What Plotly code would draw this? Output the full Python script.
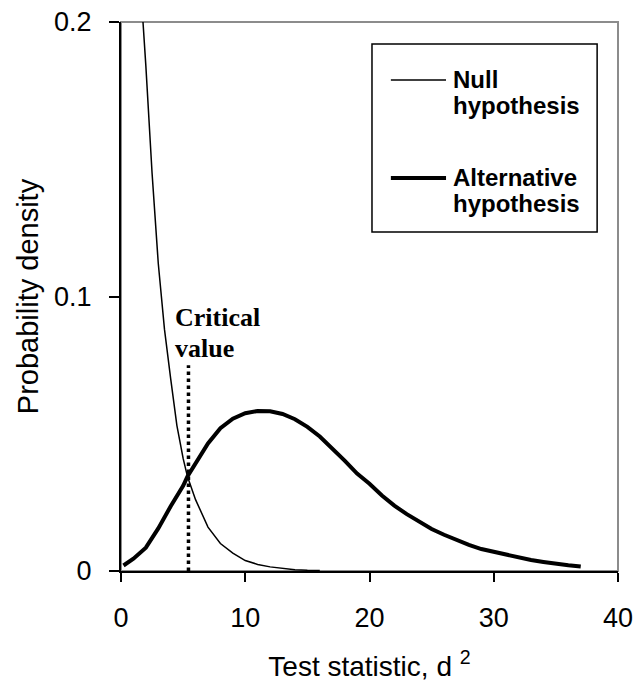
import plotly.graph_objects as go

# ---- data ----
null_x = [1.5, 1.77, 2.0, 2.5, 3.0, 3.5, 4.0, 4.5, 5.0, 5.35, 6.0, 6.5, 7.0, 8.0, 9.0,
          10.0, 11.0, 12.0, 13.0, 14.0, 15.0, 16.0]
null_y = [0.236, 0.200, 0.184, 0.145, 0.112, 0.088, 0.070, 0.053, 0.041, 0.0344, 0.026,
          0.021, 0.016, 0.010, 0.0065, 0.0038, 0.0024, 0.0015, 0.0009, 0.0005, 0.0003, 0.0002]

alt_x = [0.2, 1, 2, 3, 4, 5, 5.35, 6, 7, 8, 9, 10, 11, 12, 13, 14, 15, 16, 17, 18, 19, 20,
         21, 22, 23, 24, 25, 26, 27, 28, 29, 30, 31, 32, 33, 34, 35, 36, 37]
alt_y = [0.002, 0.0045, 0.0085, 0.0155, 0.0236, 0.031, 0.0344, 0.039, 0.0465, 0.052, 0.0555,
         0.0575, 0.0583, 0.0582, 0.0572, 0.0553, 0.0525, 0.049, 0.0448, 0.0402, 0.0355, 0.0318,
         0.0275, 0.0238, 0.0207, 0.0180, 0.0153, 0.0132, 0.0112, 0.0095, 0.0080, 0.0070, 0.0058,
         0.0048, 0.0040, 0.0033, 0.0026, 0.0021, 0.0016]

critical_x = 5.43
critical_top = 0.075
critical_label = ["Critical", "value"]

series_names = ["Null hypothesis", "Alternative hypothesis"]

x_ticks = [0, 10, 20, 30, 40]
y_ticks = [0, 0.1, 0.2]
y_ticktext = ["0", "0.1", "0.2"]

ARIAL = "Arial, Liberation Sans, sans-serif"
TIMES = "Times New Roman, Liberation Serif, serif"

fig = go.Figure()
fig.add_trace(go.Scatter(x=null_x, y=null_y, mode="lines", name=series_names[0],
                         line=dict(color="black", width=1.5), showlegend=False))
fig.add_trace(go.Scatter(x=alt_x, y=alt_y, mode="lines", name=series_names[1],
                         line=dict(color="black", width=4), showlegend=False))
fig.add_trace(go.Scatter(x=[critical_x, critical_x], y=[0, critical_top], mode="lines",
                         line=dict(color="black", width=3.5, dash="dot"), showlegend=False))

# plot-area border (grey; left/bottom covered by the black axis lines)
fig.add_shape(type="rect", xref="paper", yref="paper", x0=0, x1=1, y0=0, y1=1,
              line=dict(color="#8c8c8c", width=2), layer="below")

# custom legend box
fig.add_shape(type="rect", xref="paper", yref="paper", x0=0.505, x1=0.958, y0=0.6175, y1=0.960,
              line=dict(color="black", width=1.5), fillcolor="white")
fig.add_shape(type="line", xref="paper", yref="paper", x0=0.543, x1=0.654, y0=0.8944, y1=0.8944,
              line=dict(color="black", width=1.5))
fig.add_shape(type="line", xref="paper", yref="paper", x0=0.543, x1=0.654, y0=0.7158, y1=0.7158,
              line=dict(color="black", width=4))

legend_line_y = [[0.8714 + 0.0233, 0.8714 - 0.0233], [0.693 + 0.0233, 0.693 - 0.0233]]
for name, ys in zip(series_names, legend_line_y):
    for word, yy in zip(name.split(" "), ys):
        fig.add_annotation(xref="paper", yref="paper", x=0.664, y=yy, text="<b>" + word + "</b>",
                           showarrow=False, xanchor="left", yanchor="middle",
                           font=dict(family=ARIAL, size=24, color="black"))

# critical value label
for word, yy in zip(critical_label, [0.0925, 0.0812]):
    fig.add_annotation(x=4.2, y=yy, text="<b>" + word + "</b>", showarrow=False,
                       xanchor="left", yanchor="middle",
                       font=dict(family=TIMES, size=26, color="black"))

fig.update_layout(
    width=639, height=685,
    margin=dict(l=121, r=21, t=22, b=114),
    paper_bgcolor="white", plot_bgcolor="white",
    font=dict(family=ARIAL, size=27, color="black"),
    showlegend=False,
)
fig.update_xaxes(range=[0, 40], tickvals=x_ticks, showgrid=False, zeroline=False,
                 showline=True, linecolor="black", linewidth=2, automargin=False,
                 ticks="outside", ticklen=9, tickwidth=1.5, tickcolor="black",
                 ticklabelstandoff=13, ticklabeloverflow="allow",
                 title=dict(text="Test statistic, d <sup>2</sup>", font=dict(size=28), standoff=24))
fig.update_yaxes(range=[0, 0.2], tickvals=y_ticks, ticktext=y_ticktext, showgrid=False,
                 zeroline=False, showline=True, linecolor="black", linewidth=2, automargin=False,
                 ticks="outside", ticklen=10, tickwidth=1.5, tickcolor="black",
                 ticklabelstandoff=12, ticklabeloverflow="allow",
                 title=dict(text="Probability density", font=dict(size=29), standoff=7))

fig.write_html("out.html", config={"displayModeBar": False},
               post_script="document.body.style.margin='0';")
